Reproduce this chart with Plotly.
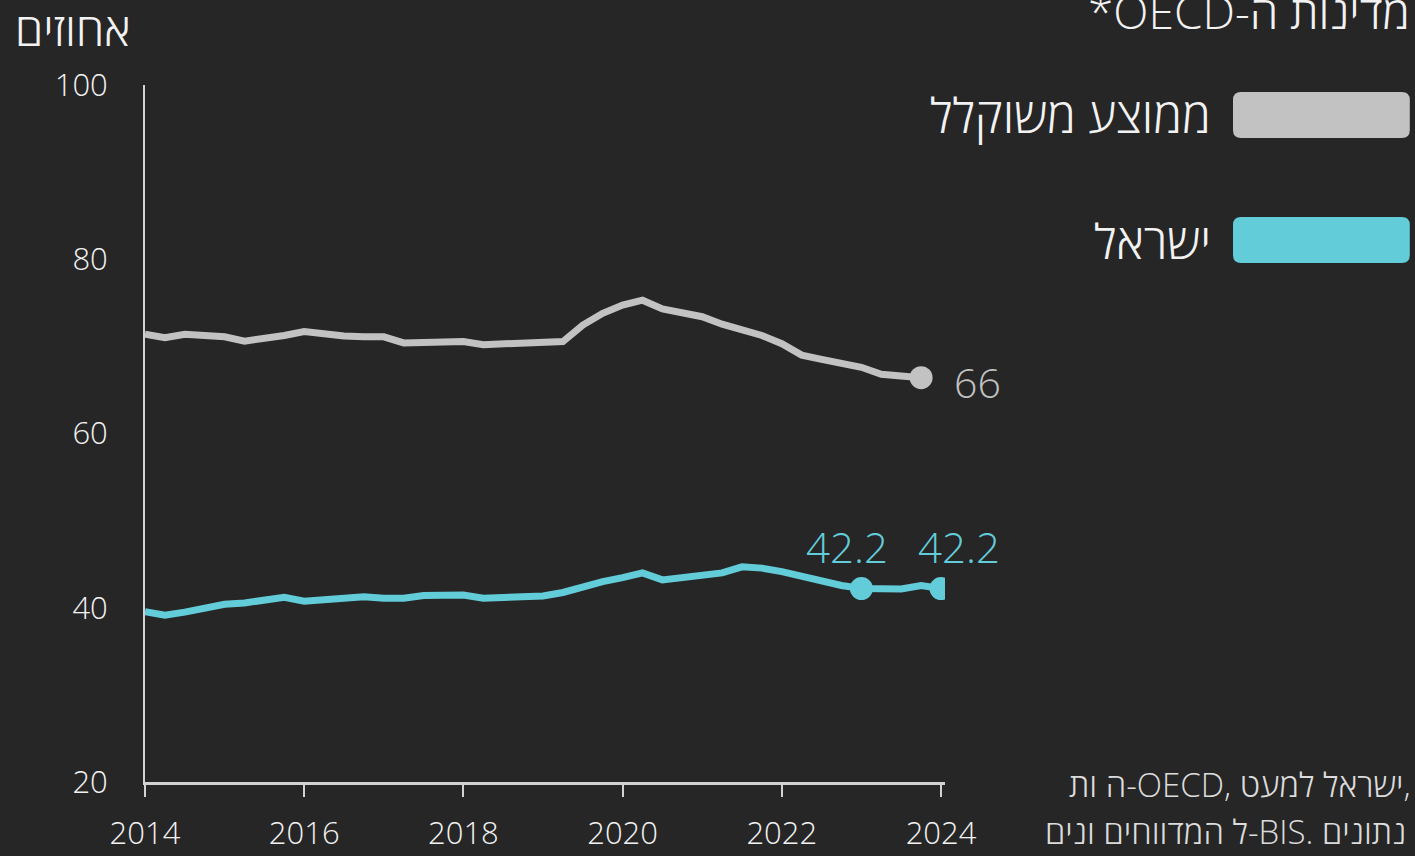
"""
Debt share chart: Israel vs weighted OECD average, quarterly 2014-2024.
"""
import plotly.graph_objects as go

# quarterly time points (decimal years)
quarters = [2014.0, 2014.25, 2014.5, 2014.75, 2015.0, 2015.25, 2015.5, 2015.75,
            2016.0, 2016.25, 2016.5, 2016.75, 2017.0, 2017.25, 2017.5, 2017.75,
            2018.0, 2018.25, 2018.5, 2018.75, 2019.0, 2019.25, 2019.5, 2019.75,
            2020.0, 2020.25, 2020.5, 2020.75, 2021.0, 2021.25, 2021.5, 2021.75,
            2022.0, 2022.25, 2022.5, 2022.75, 2023.0, 2023.25, 2023.5, 2023.75,
            2024.0]

# weighted OECD average (ends 2023 Q4)
oecd = [71.4, 71.0, 71.4, 71.25, 71.1, 70.6, 70.85, 71.25,
        71.7, 71.4, 71.2, 71.1, 71.1, 70.4, 70.5, 70.6,
        70.55, 70.2, 70.3, 70.4, 70.45, 70.55, 72.45, 73.8,
        74.75, 75.3, 74.3, 73.8, 73.4, 72.55, 72.0, 71.25,
        70.3, 69.0, 68.5, 68.1, 67.6, 66.8, 66.6, 66.4]

israel = [39.55, 39.15, 39.5, 40.0, 40.4, 40.55, 40.9, 41.2,
          40.75, 40.85, 41.1, 41.25, 41.1, 41.1, 41.4, 41.45,
          41.45, 41.1, 41.2, 41.25, 41.35, 41.75, 42.4, 43.0,
          43.45, 44.0, 43.2, 43.45, 43.7, 44.0, 44.7, 44.55,
          44.15, 43.6, 43.0, 42.55, 42.2, 42.1, 42.15, 42.55,
          42.2]

year_ticks = [2014, 2016, 2018, 2020, 2022, 2024]
pct_ticks = [20, 40, 60, 80, 100]

# highlighted points (indices into the series)
israel_marks = [36, 40]
oecd_marks = [39]

GRAY = '#c2c2c2'
CYAN = '#62ccd9'
BG = '#262626'
TXT = '#f2f2f2'
FONT = 'Open Sans'
LRM = '\u200e'

fig = go.Figure()

fig.add_trace(go.Scatter(
    x=quarters[:len(oecd)], y=oecd,
    mode='lines', line=dict(color=GRAY, width=7),
    hoverinfo='skip', showlegend=False
))
fig.add_trace(go.Scatter(
    x=quarters, y=israel,
    mode='lines', line=dict(color=CYAN, width=7),
    hoverinfo='skip', showlegend=False
))

# end markers
fig.add_trace(go.Scatter(
    x=[quarters[i] for i in oecd_marks], y=[oecd[i] for i in oecd_marks],
    mode='markers', marker=dict(size=23, color=GRAY),
    hoverinfo='skip', showlegend=False
))
fig.add_trace(go.Scatter(
    x=[quarters[i] for i in israel_marks], y=[israel[i] for i in israel_marks],
    mode='markers', marker=dict(size=23, color=CYAN),
    hoverinfo='skip', showlegend=False
))

annotations = []

# value labels
for i in oecd_marks:
    annotations.append(dict(
        x=quarters[i], y=oecd[i], xref='x', yref='y',
        text=f'{oecd[i]:.0f}', showarrow=False,
        xanchor='left', yanchor='middle', xshift=31, yshift=-4,
        font=dict(family=FONT, size=41, color=GRAY, weight=300)
    ))
for i, shift in zip(israel_marks, [-14, 18]):
    annotations.append(dict(
        x=quarters[i], y=israel[i], xref='x', yref='y',
        text=f'{israel[i]:.1f}', showarrow=False,
        xanchor='center', yanchor='bottom', xshift=shift, yshift=12,
        font=dict(family=FONT, size=42, color=CYAN, weight=300)
    ))

# axis title
annotations.append(dict(
    x=-0.165, y=1.082, xref='paper', yref='paper',
    text='אחוזים', showarrow=False, xanchor='left', yanchor='middle',
    font=dict(family=FONT, size=46, color=TXT, weight=300)
))

# legend (drawn manually)
annotations.append(dict(
    x=1.584, y=1.106, xref='paper', yref='paper',
    text='*OECD-ה' + LRM + ' מדינות', showarrow=False,
    xanchor='right', yanchor='middle',
    font=dict(family=FONT, size=46, color=TXT, weight=300)
))
legend_items = [('ממוצע משוקלל', GRAY, 0.990, 0.924),
                ('ישראל', CYAN, 0.8106, 0.7446)]
shapes = []
x0, x1, rx, ry = 1.360, 1.581, 0.010, 0.0115
for label, color, ytop, ybot in legend_items:
    path = (f'M {x0 + rx},{ytop} L {x1 - rx},{ytop} Q {x1},{ytop} {x1},{ytop - ry} '
            f'L {x1},{ybot + ry} Q {x1},{ybot} {x1 - rx},{ybot} '
            f'L {x0 + rx},{ybot} Q {x0},{ybot} {x0},{ybot + ry} '
            f'L {x0},{ytop - ry} Q {x0},{ytop} {x0 + rx},{ytop} Z')
    shapes.append(dict(type='path', xref='paper', yref='paper', path=path,
                       fillcolor=color, line=dict(width=0), layer='above'))
    annotations.append(dict(
        x=1.335, y=(ytop + ybot) / 2, xref='paper', yref='paper',
        text=label, showarrow=False, xanchor='right', yanchor='middle',
        font=dict(family=FONT, size=48, color=TXT, weight=300)
    ))

# footnote (clipped on the left in the original)
annotations.append(dict(
    x=1.585, y=-0.004, xref='paper', yref='paper',
    text=LRM + 'ות' + LRM + ' ה' + LRM + '-OECD, למעט' + LRM + ' ישראל,',
    showarrow=False, xanchor='right', yanchor='middle',
    font=dict(family=FONT, size=33, color='#dcdcdc', weight=300)
))
annotations.append(dict(
    x=1.579, y=-0.071, xref='paper', yref='paper',
    text=LRM + 'ונים' + LRM + ' המדווחים' + LRM + ' ל-BIS. נתונים',
    showarrow=False, xanchor='right', yanchor='middle',
    font=dict(family=FONT, size=33, color='#dcdcdc', weight=300)
))

fig.update_layout(
    width=1415, height=856,
    plot_bgcolor=BG, paper_bgcolor=BG,
    font=dict(family=FONT, color=TXT, weight=300),
    margin=dict(l=145, r=470, t=85, b=74),
    xaxis=dict(range=[2014, 2024.05], tickvals=year_ticks,
               ticktext=[str(y) for y in year_ticks],
               showgrid=False, zeroline=False, automargin=False,
               showline=True, linecolor='#d2d2d2', linewidth=3,
               ticks='outside', ticklen=12, tickwidth=2, tickcolor='#d2d2d2',
               ticklabelstandoff=10,
               tickfont=dict(family=FONT, size=31, color=TXT, weight=300)),
    yaxis=dict(range=[20, 100], tickvals=pct_ticks,
               showgrid=False, zeroline=False, automargin=False,
               showline=True, linecolor='#d2d2d2', linewidth=2,
               ticks='', ticklabelstandoff=29,
               tickfont=dict(family=FONT, size=31, color=TXT, weight=300)),
    shapes=shapes,
    annotations=annotations,
    showlegend=False
)

fig.write_html("out.html", config={'displayModeBar': False},
               post_script="document.body.style.margin='0';")
